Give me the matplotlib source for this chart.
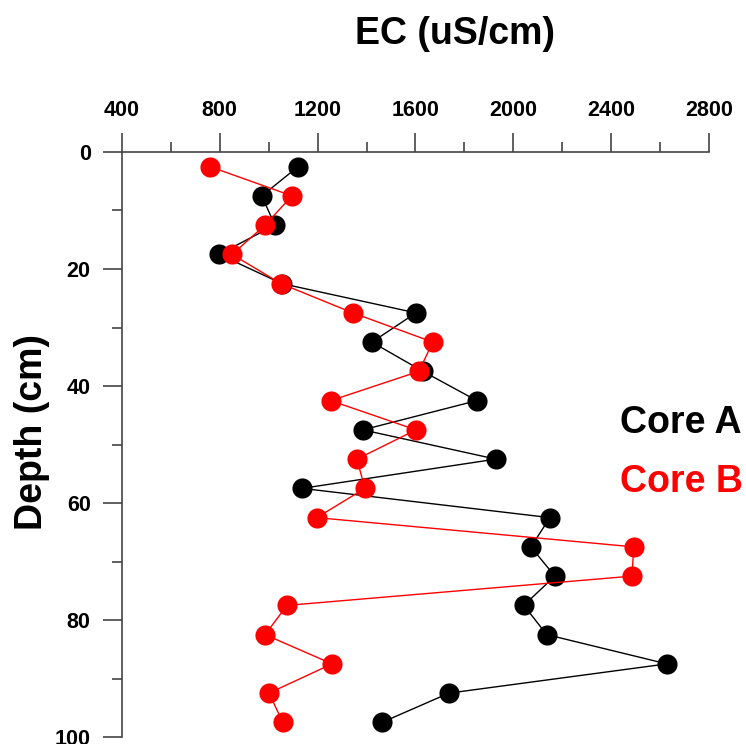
import matplotlib
matplotlib.use('Agg')
import matplotlib.pyplot as plt
from matplotlib.ticker import MultipleLocator

plt.rcParams['font.family'] = ['Liberation Sans', 'DejaVu Sans']
plt.rcParams['font.weight'] = 'bold'

depth = [2.5, 7.5, 12.5, 17.5, 22.5, 27.5, 32.5, 37.5, 42.5, 47.5,
         52.5, 57.5, 62.5, 67.5, 72.5, 77.5, 82.5, 87.5, 92.5, 97.5]
core_a = [1120, 972, 1025, 797, 1054, 1602, 1422, 1631, 1851, 1385,
          1929, 1136, 2150, 2072, 2170, 2043, 2137, 2628, 1737, 1463]
core_b = [760, 1095, 985, 850, 1050, 1344, 1671, 1614, 1254, 1602,
          1361, 1393, 1197, 2493, 2485, 1075, 985, 1259, 1001, 1058]

x_ticks = [400, 800, 1200, 1600, 2000, 2400, 2800]
y_ticks = [0, 20, 40, 60, 80, 100]


def main():
    fig = plt.figure(figsize=(7.46, 7.44), dpi=100)
    ax = fig.add_axes([0.1635, 0.0094, 0.7868, 0.7863])

    ax.plot(core_a, depth, color='black', lw=1, marker='o', ms=14.5,
            markeredgewidth=0, clip_on=False, zorder=3)
    ax.plot(core_b, depth, color='red', lw=1, marker='o', ms=14.5,
            markeredgewidth=0, clip_on=False, zorder=4)

    ax.set_xlim(400, 2800)
    ax.set_ylim(100, 0)
    ax.xaxis.tick_top()
    ax.set_xticks(x_ticks)
    ax.set_yticks(y_ticks)
    ax.xaxis.set_minor_locator(MultipleLocator(200))
    ax.yaxis.set_minor_locator(MultipleLocator(10))

    for s in ['right', 'bottom']:
        ax.spines[s].set_visible(False)
    for s in ['left', 'top']:
        ax.spines[s].set_color('#444444')
        ax.spines[s].set_linewidth(1.2)

    ax.tick_params(which='major', length=14, width=1.2, color='#444444',
                   labelsize=15.5, pad=8.5)
    ax.tick_params(which='minor', length=7, width=1.2, color='#444444')
    for lab in ax.get_xticklabels() + ax.get_yticklabels():
        lab.set_fontweight('bold')

    fig.text(455 / 746, 1 - 34 / 744, 'EC (uS/cm)', fontsize=27,
             fontweight='bold', ha='center', va='center')
    fig.text(32 / 746, 1 - 432 / 744, 'Depth (cm)', fontsize=27,
             fontweight='bold', ha='center', va='center', rotation=90)
    fig.text(620 / 746, 1 - 423 / 744, 'Core A', fontsize=27,
             fontweight='bold', color='black', ha='left', va='center')
    fig.text(620 / 746, 1 - 482 / 744, 'Core B', fontsize=27,
             fontweight='bold', color='red', ha='left', va='center')

    fig.savefig('out.png', dpi=100)


if __name__ == '__main__':
    main()
